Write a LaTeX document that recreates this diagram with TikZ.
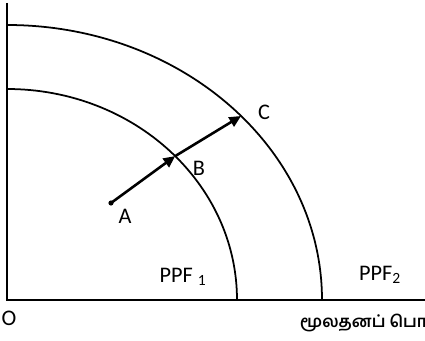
\documentclass[tikz,border=0pt]{standalone}
\usepackage{fontspec}
\setmainfont{Carlito}
\newfontfamily\tamilfont[Script=Tamil]{Hind Madurai}
\usetikzlibrary{arrows.meta}

\begin{document}
\begin{tikzpicture}[x=0.03cm, y=0.03cm,
        % Assi del grafico
        asse/.style={line width=1.6pt},
        % Frontiere delle possibilita di produzione
        frontiera/.style={line width=1.5pt},
        % Frecce di spostamento
        freccia/.style={line width=2.2pt, -{Triangle[length=10pt, width=9pt]}},
        % Etichette di testo
        etichetta/.style={font=\fontsize{19}{19}\selectfont, inner sep=0pt}
    ]
        \useasboundingbox (-7,-41) rectangle (418,300);
        \clip (-7,-41) rectangle (418,300);

        % --- ASSI ---
        \coordinate (O)  at (0,0);
        \coordinate (Y)  at (0,297);
        \coordinate (X)  at (418,0);
        \draw[asse] (Y) -- (O) -- (X);

        % --- FRONTIERE (QUARTI DI ELLISSE) ---
        \draw[frontiera] (0,211) arc[start angle=90, end angle=0, x radius=230, y radius=211];
        \draw[frontiera] (0,275) arc[start angle=90, end angle=0, x radius=315, y radius=275];

        % --- PUNTI ---
        \coordinate (A) at (104,97);
        \coordinate (B) at ({230*cos(43)},{211*sin(43)});
        \coordinate (C) at ({315*cos(42)},{275*sin(42)});
        \fill (A) circle (2.2pt);

        % --- FRECCE ---
        \draw[freccia] (A) -- (B);
        \draw[freccia] (B) -- (C);

        % --- ETICHETTE ---
        \node[etichetta] (labA) at (118,84)  {A};
        \node[etichetta] (labB) at (192,132) {B};
        \node[etichetta] (labC) at (257,188) {C};
        \node[etichetta] (ppf1) at (176,23)  {PPF \textsubscript{1}};
        \node[etichetta] (ppf2) at (373,25)  {PPF\textsubscript{2}};
        \node[etichetta] (labO) at (2,-18)   {O};
        \node[etichetta, anchor=west, font=\tamilfont\bfseries\fontsize{14}{14}\selectfont] (labX) at (293,-23) {மூலதனப் பொருட்கள்};

    \end{tikzpicture}
\end{document}
